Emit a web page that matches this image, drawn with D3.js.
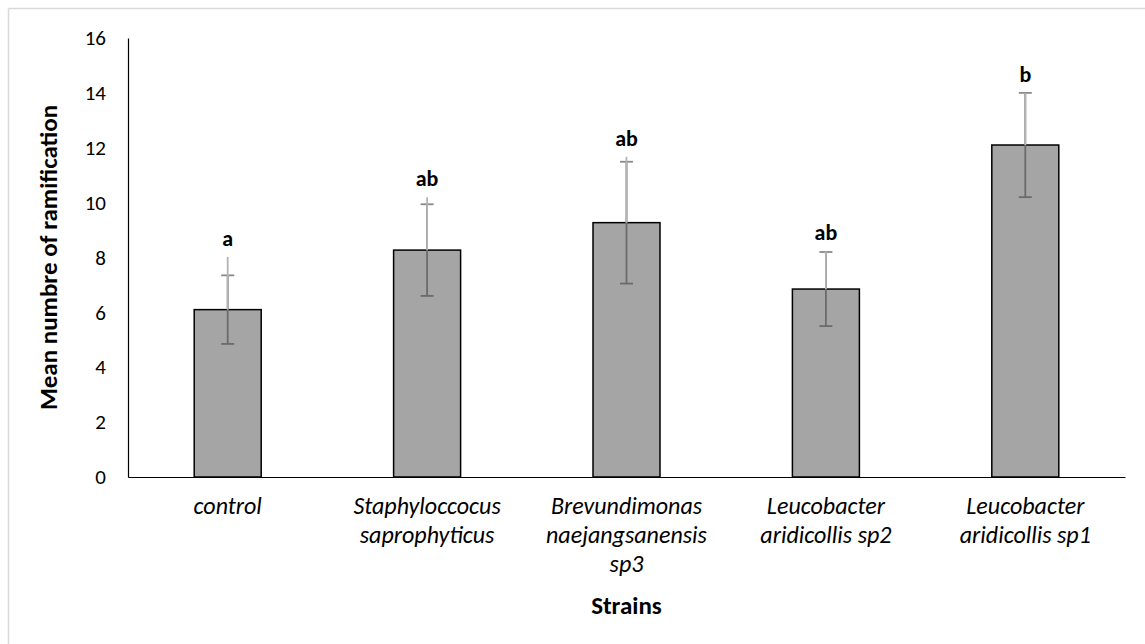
<!DOCTYPE html>
<html>
<head>
<meta charset="utf-8">
<script src="https://cdn.jsdelivr.net/npm/d3@7"></script>
<style>
  html, body { margin: 0; padding: 0; background: #fff; }
  svg { display: block; font-family: Carlito, Calibri, Lato, "Open Sans", sans-serif; }
</style>
</head>
<body>
<svg id="chart" width="1145" height="644"></svg>
<script>
// Strains tested (each entry is one category, split into display lines)
const categories = ["control", "Staphyloccocus saprophyticus", "Brevundimonas naejangsanensis sp3", "Leucobacter aridicollis sp2", "Leucobacter aridicollis sp1"];
const categoryLines = [
  ["control"],
  ["Staphyloccocus", "saprophyticus"],
  ["Brevundimonas", "naejangsanensis", "sp3"],
  ["Leucobacter", "aridicollis sp2"],
  ["Leucobacter", "aridicollis sp1"]
];
// Mean number of ramifications per strain
const means = [6.1, 8.27, 9.27, 6.85, 12.1];
// Standard error (symmetric dark bars)
const errors = [1.25, 1.67, 2.22, 1.35, 1.9];
// Upper end of the light whisker
const upperEnds = [8.02, 10.2, 11.67, 8.22, 14.0];
// Significance letters
const letters = ["a", "ab", "ab", "ab", "b"];
// Y-axis ticks
const yTicks = [0, 2, 4, 6, 8, 10, 12, 14, 16];

const svg = d3.select("#chart");

// light frame around the chart area
svg.append("line").attr("x1", 8.5).attr("x2", 1145).attr("y1", 8.5).attr("y2", 8.5)
  .attr("stroke", "#d9d9d9").attr("stroke-width", 1.5);
svg.append("line").attr("x1", 8.5).attr("x2", 8.5).attr("y1", 8.5).attr("y2", 644)
  .attr("stroke", "#d9d9d9").attr("stroke-width", 1.5);

const plotLeft = 128, plotRight = 1125, plotTop = 38, plotBottom = 477;

const x = d3.scaleBand().domain(categories).range([plotLeft, plotRight]).padding(0);
const y = d3.scaleLinear().domain([0, 16]).range([plotBottom, plotTop]);
const barW = x.bandwidth() * 0.336;

// Y axis
const yAxis = d3.axisLeft(y).tickValues(yTicks).tickSize(0).tickPadding(22);
const gy = svg.append("g").attr("transform", `translate(${plotLeft},0)`).call(yAxis);
gy.select(".domain").attr("stroke", "#000").attr("stroke-width", 1.2);
gy.selectAll("text").attr("font-size", 21).attr("fill", "#000")
  .attr("font-family", "Carlito, Calibri, Lato, sans-serif");

// Bars
svg.append("g").selectAll("rect").data(categories).join("rect")
  .attr("x", (d) => x(d) + x.bandwidth() / 2 - barW / 2)
  .attr("y", (d, i) => y(means[i]))
  .attr("width", barW)
  .attr("height", (d, i) => y(0) - y(means[i]))
  .attr("fill", "#a5a5a5")
  .attr("stroke", "#000").attr("stroke-width", 1.5);

// X axis
const xAxis = d3.axisBottom(x).tickSize(0).tickFormat("");
const gx = svg.append("g").attr("transform", `translate(0,${plotBottom})`).call(xAxis);
gx.select(".domain").attr("stroke", "#000").attr("stroke-width", 1.2);

// Error bars
const eb = svg.append("g");
categories.forEach((c, i) => {
  const cx = x(c) + x.bandwidth() / 2;
  const cap = 6.5;
  const lo = y(means[i] - errors[i]);
  const hi = y(means[i] + errors[i]);
  // dark symmetric bar
  eb.append("line").attr("x1", cx).attr("x2", cx).attr("y1", lo).attr("y2", hi)
    .attr("stroke", "#6b6b6b").attr("stroke-width", 1.8);
  eb.append("line").attr("x1", cx - cap).attr("x2", cx + cap).attr("y1", lo).attr("y2", lo)
    .attr("stroke", "#6b6b6b").attr("stroke-width", 1.8);
  eb.append("line").attr("x1", cx - cap).attr("x2", cx + cap).attr("y1", hi).attr("y2", hi)
    .attr("stroke", "#8a8a8a").attr("stroke-width", 1.8);
  // light upper whisker
  eb.append("line").attr("x1", cx).attr("x2", cx).attr("y1", y(means[i])).attr("y2", y(upperEnds[i]))
    .attr("stroke", "#b3b3b3").attr("stroke-width", 1.8);
});

// Significance letters
svg.append("g").selectAll("text").data(categories).join("text")
  .attr("x", (d) => x(d) + x.bandwidth() / 2)
  .attr("y", (d, i) => y(upperEnds[i]) - 11)
  .attr("text-anchor", "middle")
  .attr("font-size", 22).attr("font-weight", "bold").attr("fill", "#000")
  .text((d, i) => letters[i]);

// Category labels
const lab = svg.append("g");
categories.forEach((c, i) => {
  const t = lab.append("text")
    .attr("x", x(c) + x.bandwidth() / 2)
    .attr("y", 514)
    .attr("text-anchor", "middle")
    .attr("font-size", 24).attr("font-style", "italic").attr("fill", "#000");
  categoryLines[i].forEach((line, k) => {
    t.append("tspan").attr("x", x(c) + x.bandwidth() / 2).attr("dy", k === 0 ? 0 : 29).text(line);
  });
});

// Axis titles
svg.append("text")
  .attr("x", (plotLeft + plotRight) / 2).attr("y", 614)
  .attr("text-anchor", "middle")
  .attr("font-size", 25).attr("font-weight", "bold").attr("fill", "#000")
  .text("Strains");

svg.append("text")
  .attr("transform", `translate(57,${(plotTop + plotBottom) / 2}) rotate(-90)`)
  .attr("text-anchor", "middle")
  .attr("font-size", 25).attr("font-weight", "bold").attr("fill", "#000")
  .text("Mean numbre of ramification");
</script>
</body>
</html>
